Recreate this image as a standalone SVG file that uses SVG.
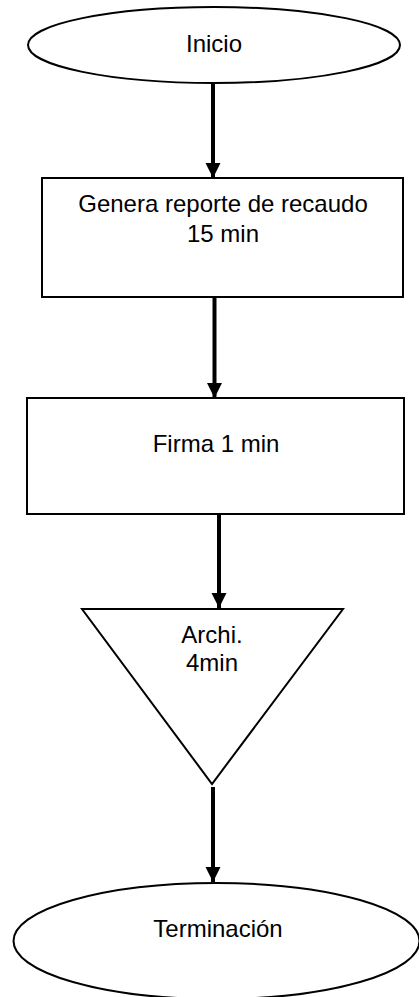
<svg xmlns="http://www.w3.org/2000/svg" width="419" height="997" viewBox="0 0 419 997">
<style>
.shape{fill:#fff;stroke:#000;stroke-width:2}
.lbl{font-family:"Liberation Sans",Arial,sans-serif;font-size:24px;fill:#000;text-anchor:middle}
.conn{stroke:#000;stroke-width:4;fill:none}
</style>
<defs>
<marker id="ah" viewBox="0 0 10 10" refX="10" refY="5" markerWidth="3.8" markerHeight="3.8" markerUnits="strokeWidth" orient="auto">
<path d="M0,0 L10,5 L0,10 Z" fill="#000"/>
</marker>
</defs>
<rect width="419" height="997" fill="#fff"/>
<g id="connectors">
<line class="conn" x1="213" y1="83" x2="213" y2="178" marker-end="url(#ah)"/>
<line class="conn" x1="214.5" y1="297" x2="214.5" y2="398" marker-end="url(#ah)"/>
<line class="conn" x1="219" y1="514" x2="219" y2="608" marker-end="url(#ah)"/>
<line class="conn" x1="213" y1="787" x2="213" y2="882" marker-end="url(#ah)"/>
</g>
<g id="inicio">
<ellipse class="shape" cx="214" cy="45" rx="186" ry="38"/>
<text class="lbl" x="214" y="52">Inicio</text>
</g>
<g id="genera">
<rect class="shape" x="42" y="178" width="361" height="119"/>
<text class="lbl" x="223" y="212">Genera reporte de recaudo</text>
<text class="lbl" x="223" y="242">15 min</text>
</g>
<g id="firma">
<rect class="shape" x="27" y="398" width="377" height="116"/>
<text class="lbl" x="216" y="452">Firma 1 min</text>
</g>
<g id="archivo">
<polygon class="shape" points="82,609 343,609 212,784"/>
<text class="lbl" x="212" y="643">Archi.</text>
<text class="lbl" x="212" y="671">4min</text>
</g>
<g id="terminacion">
<ellipse class="shape" cx="216.5" cy="941" rx="203" ry="58"/>
<text class="lbl" x="218" y="937">Terminación</text>
</g>
</svg>
